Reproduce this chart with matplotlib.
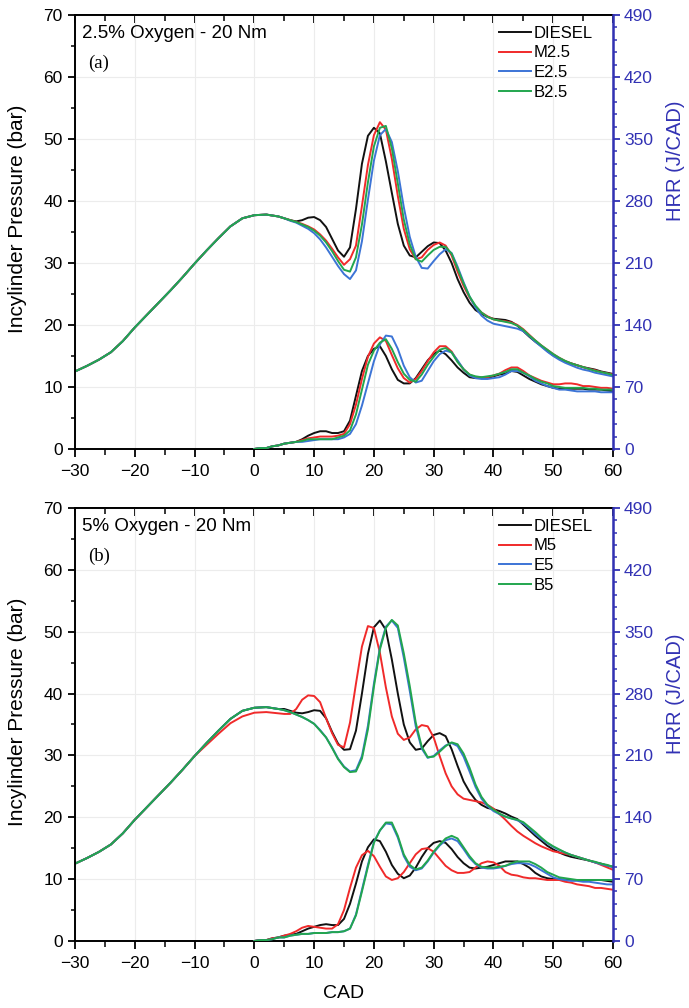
import numpy as np
import matplotlib
matplotlib.use("Agg")
import matplotlib.pyplot as plt
from matplotlib.ticker import MultipleLocator

plt.rcParams['font.family'] = ['Liberation Sans', 'DejaVu Sans']

# ---------------- DATA ----------------
# crank angle grids (CAD)
cad_mot = np.arange(-30, 5, 2)      # compression part (shared)
cad_comb = np.arange(5, 61, 1)      # combustion part
cad_hrr = np.arange(0, 61, 1)       # heat release rate

# motoring / compression pressure (bar)
p_motoring = [12.5, 13.4, 14.4, 15.6, 17.4, 19.6, 21.6, 23.6, 25.6, 27.7,
              29.9, 32.0, 34.0, 35.9, 37.2, 37.7, 37.8, 37.5]
p_motoring_m5 = [12.5, 13.4, 14.4, 15.6, 17.4, 19.6, 21.6, 23.6, 25.6, 27.7,
                 29.9, 31.7, 33.5, 35.2, 36.3, 36.9, 37.0, 36.8]

# (a) 2.5 % oxygen - pressure after 5 CAD (bar)
p_diesel_a = [37.2, 36.9, 36.7, 36.9, 37.3, 37.4, 36.9, 35.8, 33.9, 32.0,
              31.0, 32.5, 38.7, 46.0, 50.5, 51.8, 50.9, 46.4, 41.3, 36.3,
              32.8, 31.2, 30.9, 31.8, 32.7, 33.3, 33.2, 32.0, 30.0, 27.4,
              25.3, 23.6, 22.4, 21.8, 21.3, 21.0, 20.9, 20.8, 20.5, 19.9,
              19.0, 18.1, 17.3, 16.6, 15.8, 15.1, 14.6, 14.1, 13.8, 13.5,
              13.2, 13.0, 12.8, 12.5, 12.3, 12.1]
p_m25 = [37.2, 36.9, 36.6, 36.3, 35.9, 35.4, 34.6, 33.6, 32.3, 30.9,
         29.7, 30.6, 32.8, 39.2, 45.8, 50.6, 52.7, 51.5, 46.8, 40.8,
         35.5, 32.2, 30.6, 30.9, 32.1, 32.9, 33.3, 32.8, 31.2, 28.6,
         26.3, 24.4, 23.0, 22.0, 21.4, 20.9, 20.7, 20.6, 20.4, 20.0,
         19.3, 18.4, 17.5, 16.7, 16.0, 15.3, 14.7, 14.2, 13.8, 13.5,
         13.2, 12.9, 12.7, 12.4, 12.2, 12.0]
p_e25 = [37.2, 36.8, 36.5, 36.0, 35.5, 34.8, 33.8, 32.5, 31.0, 29.5,
         28.2, 27.4, 28.8, 33.5, 40.2, 46.5, 50.6, 51.6, 49.5, 44.8,
         39.0, 34.2, 31.0, 29.2, 29.1, 30.3, 31.4, 32.2, 31.6, 29.4,
         26.9, 24.6, 22.8, 21.5, 20.7, 20.2, 20.0, 19.8, 19.6, 19.4,
         19.0, 18.2, 17.3, 16.5, 15.7, 15.0, 14.4, 13.9, 13.5, 13.1,
         12.8, 12.6, 12.3, 12.1, 11.9, 11.7]
p_b25 = [37.2, 36.9, 36.6, 36.2, 35.8, 35.2, 34.4, 33.3, 31.9, 30.3,
         28.9, 28.6, 30.9, 36.2, 43.0, 48.8, 51.8, 52.1, 48.5, 42.8,
         37.0, 33.0, 30.6, 30.2, 31.2, 32.1, 32.6, 32.6, 31.5, 29.1,
         26.7, 24.6, 23.1, 22.0, 21.3, 20.9, 20.7, 20.5, 20.3, 19.9,
         19.2, 18.3, 17.5, 16.7, 16.0, 15.3, 14.7, 14.2, 13.8, 13.5,
         13.2, 12.9, 12.6, 12.4, 12.2, 11.9]

# (a) heat release rate (J/CAD)
hrr_diesel_a = [0, 1, 1, 3, 4, 6, 7, 8, 11, 15, 18, 20, 20, 18, 18, 20, 32, 60, 88, 105,
                113, 116, 105, 90, 78, 74, 74, 80, 90, 100, 107, 111, 107, 100, 92, 86, 81, 80, 80, 80,
                82, 84, 85, 88, 87, 83, 79, 76, 73, 71, 69, 68, 68, 68, 68, 68, 67, 67, 67, 66, 65]
hrr_m25 = [0, 1, 1, 3, 4, 6, 7, 8, 10, 12, 13, 14, 14, 14, 15, 17, 28, 50, 79, 104,
           119, 126, 122, 106, 91, 80, 75, 79, 88, 99, 109, 116, 116, 110, 99, 90, 84, 81, 81, 81,
           83, 85, 89, 92, 92, 88, 83, 80, 77, 75, 73, 73, 74, 74, 73, 71, 71, 70, 69, 69, 68]
hrr_e25 = [0, 1, 1, 3, 4, 6, 7, 8, 8, 9, 10, 11, 11, 11, 11, 13, 17, 28, 49, 74,
           99, 118, 128, 127, 113, 94, 81, 75, 77, 88, 99, 107, 111, 109, 100, 90, 83, 80, 79, 79,
           80, 81, 84, 88, 88, 86, 82, 77, 74, 71, 69, 67, 67, 66, 65, 65, 65, 65, 64, 64, 64]
hrr_b25 = [0, 1, 1, 3, 4, 6, 7, 8, 9, 11, 11, 11, 11, 11, 13, 15, 21, 39, 67, 95,
           111, 120, 124, 113, 98, 85, 78, 76, 84, 95, 104, 112, 114, 109, 98, 90, 84, 82, 81, 82,
           83, 85, 87, 90, 90, 86, 83, 79, 76, 74, 71, 70, 69, 69, 69, 69, 68, 68, 67, 67, 67]

# (b) 5 % oxygen - pressure after 5 CAD (bar)
p_diesel_b = [37.5, 37.2, 36.9, 36.8, 37.0, 37.3, 37.2, 36.0, 33.8, 31.9,
              30.9, 31.0, 34.0, 40.0, 46.4, 50.7, 51.8, 50.3, 45.5, 40.0,
              35.0, 32.1, 30.9, 31.1, 32.3, 33.3, 33.6, 33.1, 31.0, 28.3,
              25.8, 24.1, 22.8, 22.0, 21.5, 21.3, 21.0, 20.6, 20.1, 19.7,
              18.8, 17.9, 17.0, 16.2, 15.4, 14.8, 14.3, 13.9, 13.6, 13.4,
              13.2, 13.0, 12.7, 12.5, 12.2, 12.0]
p_m5 = [36.7, 36.7, 37.5, 39.0, 39.7, 39.6, 38.6, 36.0, 33.6, 31.7,
        31.3, 35.3, 41.6, 47.6, 50.9, 50.6, 46.6, 41.0, 36.3, 33.5,
        32.5, 32.9, 34.2, 34.9, 34.7, 32.9, 29.9, 27.1, 25.0, 23.7,
        23.0, 22.8, 22.6, 22.4, 22.0, 21.4, 20.5, 19.6, 18.6, 17.7,
        17.0, 16.4, 15.8, 15.3, 14.9, 14.5, 14.3, 14.1, 13.9, 13.6,
        13.3, 13.0, 12.7, 12.3, 11.9, 11.5]
p_e5 = [37.3, 37.0, 36.6, 36.2, 35.7, 35.1, 34.1, 32.9, 31.3, 29.5,
        28.2, 27.4, 27.6, 29.9, 34.8, 41.6, 47.4, 50.8, 51.8, 50.6,
        45.8, 40.4, 34.7, 31.1, 29.6, 29.9, 30.8, 31.6, 32.0, 31.5,
        29.8, 27.4, 24.9, 23.0, 21.8, 21.0, 20.5, 20.1, 19.8, 19.5,
        19.0, 18.2, 17.3, 16.5, 15.8, 15.2, 14.7, 14.3, 13.9, 13.6,
        13.3, 13.0, 12.7, 12.4, 12.2, 11.9]
p_b5 = [37.3, 37.0, 36.6, 36.2, 35.7, 35.1, 34.0, 32.9, 31.2, 29.4,
        28.1, 27.3, 27.4, 29.5, 34.2, 41.1, 47.1, 50.6, 51.9, 51.0,
        46.5, 41.2, 35.3, 31.4, 29.7, 29.8, 30.6, 31.5, 32.1, 31.8,
        30.3, 28.0, 25.3, 23.3, 22.0, 21.2, 20.6, 20.1, 19.8, 19.6,
        19.2, 18.4, 17.6, 16.7, 15.9, 15.3, 14.8, 14.3, 13.9, 13.6,
        13.3, 13.0, 12.8, 12.5, 12.3, 12.0]

# (b) heat release rate (J/CAD)
hrr_diesel_b = [0, 1, 1, 3, 4, 6, 7, 8, 11, 14, 16, 18, 19, 18, 18, 25, 42, 65, 90, 106,
                115, 113, 101, 86, 76, 71, 74, 83, 95, 105, 111, 113, 111, 104, 95, 88, 83, 82, 83, 84,
                86, 88, 90, 90, 90, 87, 83, 77, 73, 71, 70, 70, 69, 69, 69, 69, 69, 69, 69, 68, 67]
hrr_m5 = [0, 1, 1, 3, 4, 6, 8, 11, 15, 17, 16, 15, 14, 14, 19, 35, 60, 83, 97, 102,
          96, 84, 73, 69, 71, 78, 88, 98, 104, 105, 101, 93, 85, 80, 77, 77, 78, 83, 88, 90,
          89, 85, 78, 75, 74, 72, 71, 71, 70, 69, 69, 69, 67, 66, 64, 63, 62, 60, 60, 59, 58]
hrr_e5 = [0, 1, 1, 2, 4, 4, 6, 7, 8, 8, 9, 9, 9, 10, 10, 11, 14, 30, 58, 86,
          112, 125, 133, 132, 117, 96, 84, 80, 82, 90, 100, 108, 114, 116, 113, 104, 94, 87, 83, 82,
          82, 83, 85, 87, 88, 88, 87, 84, 80, 76, 72, 70, 69, 68, 68, 67, 67, 66, 65, 64, 64]
hrr_b5 = [0, 1, 1, 2, 4, 4, 6, 7, 8, 8, 9, 9, 9, 10, 10, 11, 14, 29, 56, 84,
          111, 125, 134, 134, 119, 98, 86, 81, 83, 91, 101, 109, 116, 119, 116, 106, 96, 88, 84, 83,
          83, 84, 85, 88, 90, 90, 90, 87, 83, 78, 75, 72, 71, 70, 69, 69, 69, 69, 69, 69, 69]

colors = ["#111111", "#f02a2a", "#3c74d6", "#22a64e"]
hrr_color = "#3232b4"

panels = [
    {"title": "2.5% Oxygen - 20 Nm", "tag": "(a)",
     "labels": ["DIESEL", "M2.5", "E2.5", "B2.5"],
     "p": [p_diesel_a, p_m25, p_e25, p_b25],
     "mot": [p_motoring, p_motoring, p_motoring, p_motoring],
     "hrr": [hrr_diesel_a, hrr_m25, hrr_e25, hrr_b25],
     "rect": [0.1089, 0.5546, 0.7808, 0.4306], "hrr_y": 0.665},
    {"title": "5% Oxygen - 20 Nm", "tag": "(b)",
     "labels": ["DIESEL", "M5", "E5", "B5"],
     "p": [p_diesel_b, p_m5, p_e5, p_b5],
     "mot": [p_motoring, p_motoring_m5, p_motoring, p_motoring],
     "hrr": [hrr_diesel_b, hrr_m5, hrr_e5, hrr_b5],
     "rect": [0.1089, 0.0665, 0.7808, 0.4296], "hrr_y": 0.57},
]

# ---------------- FIGURE ----------------
fig = plt.figure(figsize=(6.89, 10.08), dpi=100)

for i, pan in enumerate(panels):
    ax = fig.add_axes(pan["rect"])
    ax2 = ax.twinx()

    handles = []
    for k in range(4):
        cad_p = np.concatenate([cad_mot, cad_comb])
        pres = np.concatenate([pan["mot"][k], pan["p"][k]])
        line, = ax.plot(cad_p, pres, color=colors[k], lw=1.4, label=pan["labels"][k])
        ax2.plot(cad_hrr, pan["hrr"][k], color=colors[k], lw=1.4)
        handles.append(line)

    ax.set_xlim(-30, 60)
    ax.set_ylim(0, 70)
    ax2.set_ylim(0, 490)

    ax.xaxis.set_major_locator(MultipleLocator(10))
    ax.xaxis.set_minor_locator(MultipleLocator(5))
    ax.yaxis.set_major_locator(MultipleLocator(10))
    ax.yaxis.set_minor_locator(MultipleLocator(5))
    ax2.yaxis.set_major_locator(MultipleLocator(70))
    ax2.yaxis.set_minor_locator(MultipleLocator(14))

    # faint grid
    ax.grid(True, which="major", color="#ececec", lw=0.8)
    ax.set_axisbelow(True)

    ax.tick_params(axis="x", which="both", direction="out", top=False, labelsize=12.5, pad=5)
    ax.tick_params(axis="x", which="major", length=6, width=1.3)
    ax.tick_params(axis="x", which="minor", length=4, width=1.1)
    ax.tick_params(axis="y", which="major", direction="out", length=5, width=1.3, labelsize=12.5, pad=4)
    ax.tick_params(axis="y", which="minor", direction="out", length=3, width=1.1)

    # top axis ticks pointing inwards
    sec = ax.secondary_xaxis("top")
    sec.xaxis.set_major_locator(MultipleLocator(10))
    sec.xaxis.set_minor_locator(MultipleLocator(5))
    sec.tick_params(which="major", direction="in", length=6, width=1.3, labeltop=False)
    sec.tick_params(which="minor", direction="in", length=4, width=1.1)
    sec.spines["top"].set_linewidth(1.4)

    ax2.tick_params(axis="y", which="major", direction="out", length=5, width=1.3,
                    colors=hrr_color, labelsize=12.5, pad=3)
    ax2.tick_params(axis="y", which="minor", direction="out", length=3, width=1.1, colors=hrr_color)
    ax2.spines["right"].set_color(hrr_color)
    ax2.spines["right"].set_linewidth(1.8)
    for s in ["left", "bottom", "top"]:
        ax.spines[s].set_linewidth(1.4)
        ax2.spines[s].set_visible(False)

    ax.set_ylabel("Incylinder Pressure (bar)", fontsize=15)
    ax.yaxis.set_label_coords(-0.089, 0.53)
    ax2.set_ylabel("HRR (J/CAD)", fontsize=14.5, color=hrr_color)
    ax2.yaxis.set_label_coords(1.099, pan["hrr_y"])

    ax.text(0.013, 0.958, pan["title"], transform=ax.transAxes, fontsize=13.5, va="center")
    ax.text(0.024, 0.889, pan["tag"], transform=ax.transAxes, fontsize=13.5, va="center",
            family="Liberation Serif")

    ax2.legend(handles=handles, loc="upper right", bbox_to_anchor=(0.962, 0.975),
               frameon=False, fontsize=12, handlelength=1.9, handletextpad=0.15,
               labelspacing=0.28, borderaxespad=0, borderpad=0)

    if i == 1:
        ax.set_xlabel("CAD", fontsize=14, labelpad=10)

fig.savefig("out.png", dpi=100)
